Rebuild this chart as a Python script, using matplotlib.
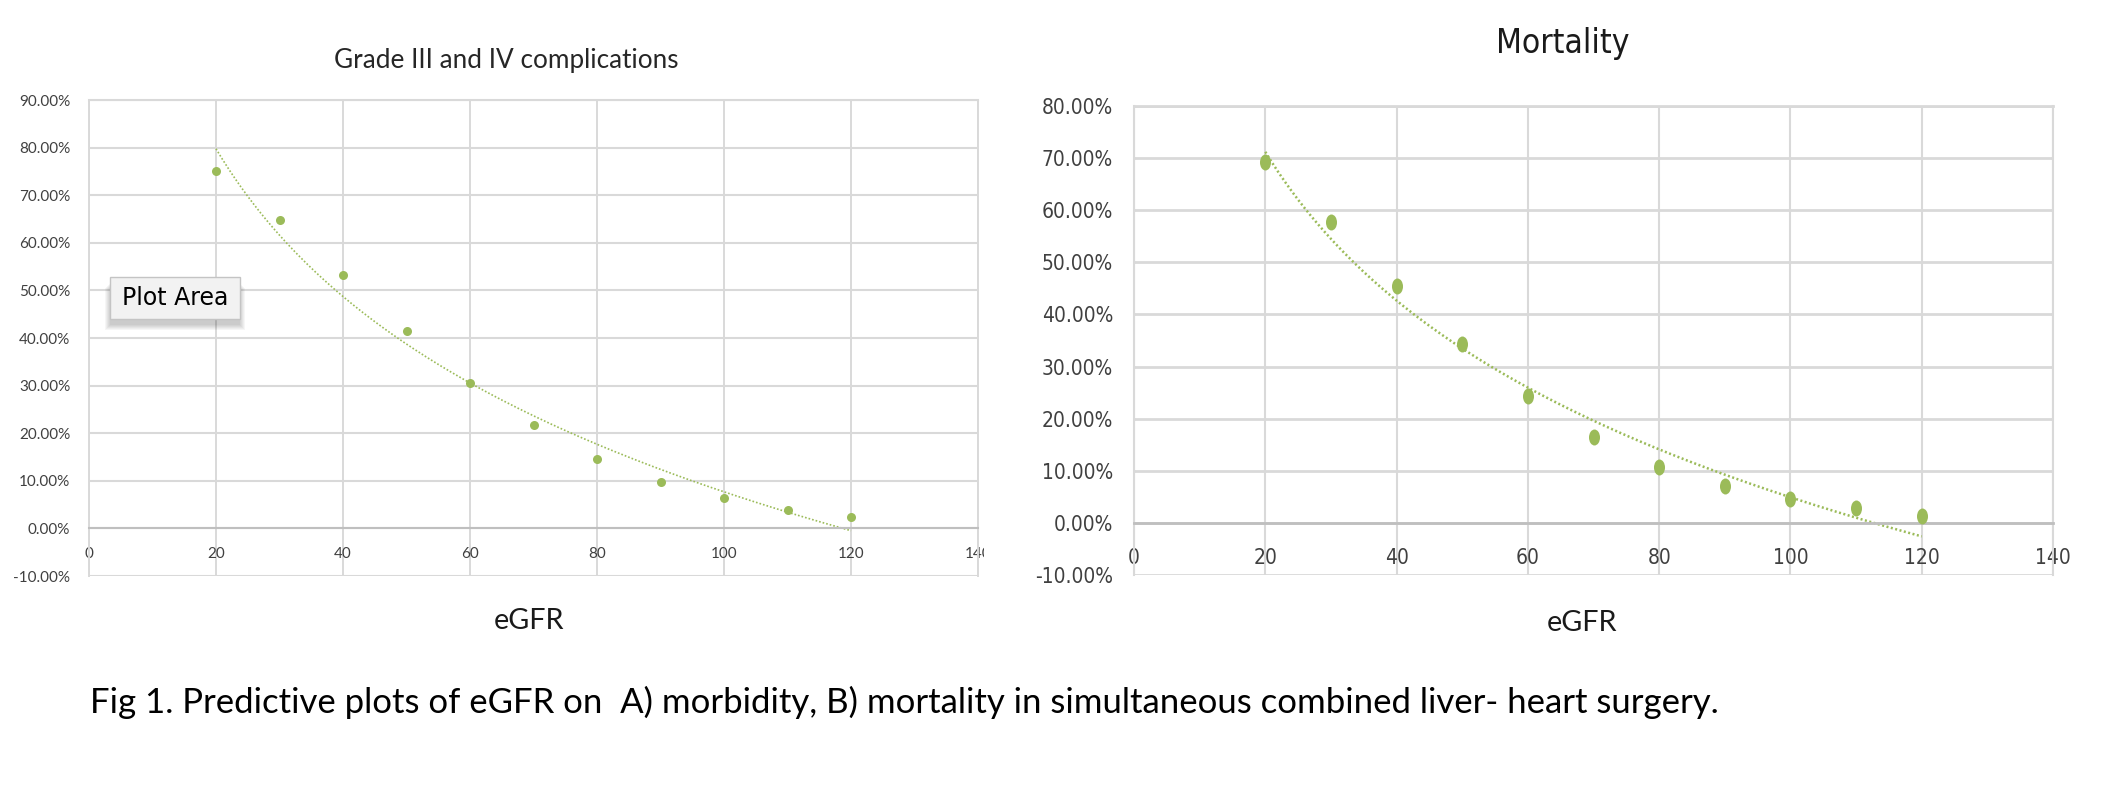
import numpy as np
import matplotlib
matplotlib.use("Agg")
import matplotlib.pyplot as plt
from matplotlib import font_manager as fm
from matplotlib.path import Path
from matplotlib.patches import Rectangle
from matplotlib.transforms import Affine2D

# ========== DATA ==========
egfr = [20, 30, 40, 50, 60, 70, 80, 90, 100, 110, 120]
complications = [0.750, 0.648, 0.532, 0.415, 0.305, 0.218, 0.146, 0.097, 0.063, 0.039, 0.024]
mortality = [0.692, 0.578, 0.454, 0.343, 0.244, 0.164, 0.108, 0.070, 0.046, 0.028, 0.014]

x_ticks = [0, 20, 40, 60, 80, 100, 120, 140]
left_y_ticks = [-0.1, 0.0, 0.1, 0.2, 0.3, 0.4, 0.5, 0.6, 0.7, 0.8, 0.9]
right_y_ticks = [-0.1, 0.0, 0.1, 0.2, 0.3, 0.4, 0.5, 0.6, 0.7, 0.8]

left_title = "Grade III and IV complications"
right_title = "Mortality"
x_label = "eGFR"
caption = ("Fig 1. Predictive plots of eGFR on  A) morbidity, B) mortality "
           "in simultaneous combined liver- heart surgery.")
# ==========================

GREEN = "#9BBB59"
GRID = "#D9D9D9"
AXIS = "#BFBFBF"
TEXT = "#404040"

W, H = 2102, 790
plt.rcParams["axes.unicode_minus"] = False


def narrow_font():
    # the right panel was pasted horizontally squeezed: use a narrow face if one exists
    wanted = ["NotoSans-ExtraCondensed.", "LiberationSansNarrow-Regular", "NotoSans-Condensed.",
              "DejaVuSansCondensed.", "RobotoCondensed-Regular", "OpenSans-CondensedRegular",
              "NotoSans-SemiCondensed."]
    files = [f.fname for f in fm.fontManager.ttflist]
    for w in wanted:
        for f in files:
            if w in f.replace("\\", "/").split("/")[-1]:
                return fm.FontProperties(fname=f)
    return fm.FontProperties(family="Lato")


NARROW = narrow_font()

fig = plt.figure(figsize=(W / 100, H / 100), dpi=100)
renderer = fig.canvas.get_renderer()
# pixel coordinates of the reference (origin top-left)
pix = Affine2D().scale(1 / W, -1 / H).translate(0, 1) + fig.transFigure


def fit_size(text, width_px, lo, hi):
    t = fig.text(0, 0, text, fontproperties=NARROW, fontsize=10)
    w = t.get_window_extent(renderer).width
    t.remove()
    return max(lo, min(hi, 10 * width_px / w))


def box(x0, y0, x1, y1):
    return [x0 / W, 1 - y1 / H, (x1 - x0) / W, (y1 - y0) / H]


def log_trend(x, y):
    # Excel style logarithmic trendline
    a, b = np.polyfit(np.log(x), y, 1)
    xs = np.linspace(min(x), max(x), 200)
    return xs, a * np.log(xs) + b


def style_axes(ax, yticks, fprops, size, xpad, ypad, hlw, vlw):
    ax.spines["bottom"].set_position(("data", 0))
    ax.set_xlim(0, 140)
    ax.set_ylim(yticks[0], yticks[-1])
    ax.set_xticks(x_ticks, labels=[str(t) for t in x_ticks])
    ax.set_yticks(yticks, labels=[f"{t * 100:.2f}%" for t in yticks])
    ax.grid(axis="y", color=GRID, lw=hlw)
    ax.grid(axis="x", color=GRID, lw=vlw)
    ax.set_axisbelow(True)
    ax.spines["top"].set_color(GRID)
    ax.spines["top"].set_linewidth(hlw)
    for s in ["left", "right"]:
        ax.spines[s].set_color(GRID)
        ax.spines[s].set_linewidth(vlw)
    ax.spines["bottom"].set_color(AXIS)
    ax.spines["bottom"].set_linewidth(hlw)
    ax.tick_params(length=0)
    ax.tick_params(axis="x", pad=xpad)
    ax.tick_params(axis="y", pad=ypad)
    for lab in ax.get_xticklabels() + ax.get_yticklabels():
        lab.set_fontproperties(fprops)
        lab.set_fontsize(size)
        lab.set_color(TEXT)


# ---- A) complications ----
ax1 = fig.add_axes(box(89, 100, 978, 576))
style_axes(ax1, left_y_ticks, fm.FontProperties(family="Lato"), 11, 13.5, 13.5, 1.5, 1.4)
tx, ty = log_trend(egfr, complications)
ax1.plot(tx, ty, color=GREEN, lw=1.2, ls=(0, (1, 1.2)), zorder=2)
ax1.plot(egfr, complications, "o", color=GREEN, ms=6.5, mec="none", zorder=3)
lab140 = ax1.get_xticklabels()[-1]
lab140.set_clip_on(True)
lab140.set_clip_path(Rectangle((0, 0), 984, H, transform=pix))

# ---- B) mortality ----
tick_size = fit_size("80.00%", 64, 15, 18)
ax2 = fig.add_axes(box(1134, 106, 2053, 575))
style_axes(ax2, right_y_ticks, NARROW, tick_size, 18, 15, 2.0, 1.5)
circ = Path.unit_circle()
ellipse = Path(circ.vertices * [0.69, 1.0], circ.codes)
tx, ty = log_trend(egfr, mortality)
ax2.plot(tx, ty, color=GREEN, lw=1.8, ls=(0, (0.8, 1.0)), zorder=2)
ax2.plot(egfr, mortality, ls="none", marker=ellipse, color=GREEN, ms=11.5,
         mec="none", zorder=3)

# ---- titles and labels ----
fig.text(506, 68, left_title, transform=pix, ha="center", va="baseline",
         fontsize=18.8, family="Lato", color="#262626")
fig.text(1563, 53, right_title, transform=pix, ha="center", va="baseline",
         fontproperties=NARROW, fontsize=fit_size(right_title, 121, 24, 28),
         color="#1a1a1a")
fig.text(529, 629, x_label, transform=pix, ha="center", va="baseline",
         fontsize=20.7, family="Lato", color="#1a1a1a")
fig.text(1582, 631, x_label, transform=pix, ha="center", va="baseline",
         fontsize=20.7, family="Lato", color="#1a1a1a")
fig.text(90, 713, caption, transform=pix, ha="left", va="baseline",
         fontsize=25, family="Lato", color="black")

# ---- "Plot Area" tooltip left over in the screenshot ----
for i in range(6):
    fig.patches.append(Rectangle((110 - i, 283 + i), 130 + 2 * i, 42,
                                 transform=pix, fc="black", ec="none",
                                 alpha=0.035, zorder=4))
fig.patches.append(Rectangle((110, 277), 130, 42, transform=pix,
                             fc="#F2F2F2", ec="#C4C4C4", lw=1, zorder=5))
fig.text(175, 298, "Plot Area", transform=pix, ha="center", va="center",
         fontsize=17, family="DejaVu Sans", color="black", zorder=6)

fig.savefig("out.png", dpi=100)
